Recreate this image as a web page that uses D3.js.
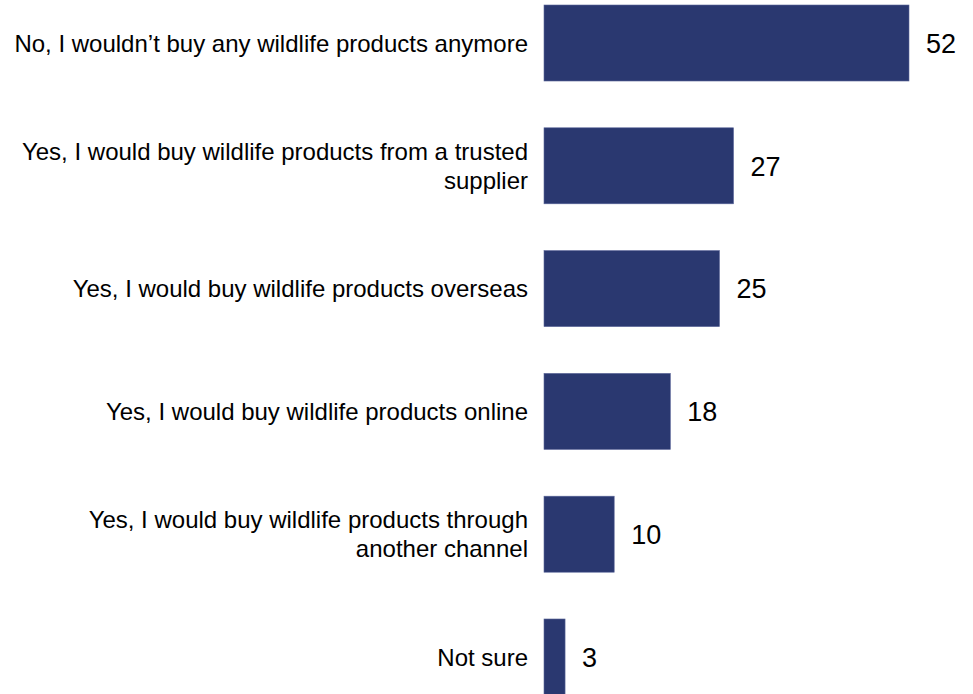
<!DOCTYPE html>
<html>
<head>
<meta charset="utf-8">
<script src="https://cdn.jsdelivr.net/npm/d3@7"></script>
<style>
  html, body { margin: 0; padding: 0; background: #ffffff; }
  svg { display: block; }
  text { font-family: "Liberation Sans", Arial, sans-serif; fill: #000000; }
</style>
</head>
<body>
<svg id="chart" width="973" height="694"></svg>
<script>
// Survey answers (one entry per bar, line breaks mark label wrapping)
const categories = [
  "No, I wouldn\u2019t buy any wildlife products anymore",
  "Yes, I would buy wildlife products from a trusted\nsupplier",
  "Yes, I would buy wildlife products overseas",
  "Yes, I would buy wildlife products online",
  "Yes, I would buy wildlife products through\nanother channel",
  "Not sure"
];
const values = [52, 27, 25, 18, 10, 3];

const barColor = "#2a3870";

const svg = d3.select("#chart");

const x = d3.scaleLinear().domain([0, 52]).range([544, 909]);
const y = d3.scaleBand()
  .domain(categories)
  .range([5, 695])
  .paddingInner(0.381)
  .paddingOuter(0);

const rows = categories.map((c, i) => ({ cat: c, val: values[i] }));

// Bars
svg.append("g").selectAll("rect")
  .data(rows)
  .join("rect")
  .attr("x", x(0))
  .attr("y", d => y(d.cat))
  .attr("width", d => x(d.val) - x(0))
  .attr("height", y.bandwidth())
  .attr("fill", barColor)
  .attr("stroke", "#5b6699")
  .attr("stroke-width", 0.6);

// Value labels
svg.append("g").selectAll("text")
  .data(rows)
  .join("text")
  .attr("x", d => x(d.val) + 17)
  .attr("y", d => y(d.cat) + y.bandwidth() / 2)
  .attr("dy", "0.36em")
  .attr("font-size", 27)
  .text(d => d.val);

// Category labels, right-aligned to the left of the bars
const lineH = 29;
const labels = svg.append("g").selectAll("text")
  .data(rows)
  .join("text")
  .attr("text-anchor", "end")
  .attr("font-size", 24);

labels.each(function(d) {
  const lines = d.cat.split("\n");
  const t = d3.select(this);
  const cy = y(d.cat) + y.bandwidth() / 2;
  lines.forEach((ln, k) => {
    t.append("tspan")
      .attr("x", 528)
      .attr("y", cy + (k - (lines.length - 1) / 2) * lineH)
      .attr("dy", "0.36em")
      .text(ln);
  });
});
</script>
</body>
</html>
